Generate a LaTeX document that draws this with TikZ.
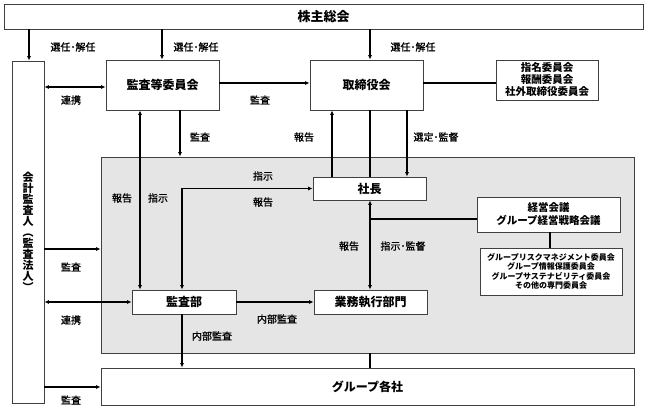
\documentclass[tikz,border=0pt]{standalone}
\usepackage{fontspec}
\setmainfont{Noto Sans CJK JP}
\newfontfamily\chuufont[FakeBold=1.2]{Noto Sans CJK JP}
\usetikzlibrary{arrows.meta}
\begin{document}
\begin{tikzpicture}[
    x=1pt, y=-1pt,
    every node/.style={font=\chuufont\fontsize{10}{12}\selectfont},
    >={Latex[length=4.5pt,width=4pt]}
  ]

  \tikzset{
    hako/.style={draw=black!75, fill=white, line width=0.8pt, inner sep=0pt, align=center,
      font=\normalfont\bfseries\fontsize{12}{14}\selectfont},
    ryoiki/.style={draw=black!75, fill=black!10, line width=0.8pt, inner sep=0pt},
    sen/.style={line width=1.5pt}
  }

  \useasboundingbox (0,0) rectangle (648,409);

  % 執行側の領域
  \node[ryoiki, minimum width=533pt, minimum height=196pt] (ryoiki) at (367.5,255) {};

  % 各機関
  \node[hako, minimum width=639pt, minimum height=25pt, font=\normalfont\bfseries\fontsize{13}{15}\selectfont] (soukai) at (323.5,16.5) {株主総会};
  \node[hako, minimum width=32pt, minimum height=342pt, font=\normalfont\bfseries\fontsize{11}{11}\selectfont] (kaikei) at (28,232)
    {会\\計\\監\\査\\人\\︵\\監\\査\\法\\人\\︶};
  \node[hako, minimum width=113pt, minimum height=50pt] (kansa) at (162.5,85) {監査等委員会};
  \node[hako, minimum width=113pt, minimum height=50pt] (torishimari) at (366.5,85) {取締役会};
  \node[hako, minimum width=102pt, minimum height=40pt, font=\normalfont\bfseries\fontsize{10.5}{12}\selectfont] (shimei) at (547,80)
    {指名委員会\\報酬委員会\\社外取締役委員会};
  \node[hako, minimum width=113pt, minimum height=23pt] (shachou) at (369.5,188.5) {社長};
  \node[hako, minimum width=143pt, minimum height=35pt, font=\normalfont\bfseries\fontsize{10.5}{13}\selectfont] (keiei) at (548.5,214.5)
    {経営会議\\グループ経営戦略会議};
  \node[hako, minimum width=142pt, minimum height=47pt, font=\normalfont\bfseries\fontsize{8}{9.5}\selectfont] (iinkai) at (551,271.5)
    {グループリスクマネジメント委員会\\グループ情報保護委員会\\グループサステナビリティ委員会\\その他の専門委員会};
  \node[hako, minimum width=104pt, minimum height=24pt] (kansabu) at (184,302) {監査部};
  \node[hako, minimum width=113pt, minimum height=24pt] (gyoumu) at (370.5,302) {業務執行部門};
  \node[hako, minimum width=533pt, minimum height=37pt] (group) at (367.5,386.5) {グループ各社};

  % 線の位置
  \coordinate (xa) at (29,0);
  \coordinate (xb) at (162,0);
  \coordinate (xc) at (370,0);
  \coordinate (xd) at (180,0);
  \coordinate (xe) at (140,0);
  \coordinate (xf) at (182,0);
  \coordinate (xg) at (332,0);
  \coordinate (xh) at (407,0);
  \coordinate (xi) at (550,0);
  \coordinate (ya) at (0,87);
  \coordinate (yb) at (0,83);
  \coordinate (yd) at (0,249);
  \coordinate (ye) at (0,387);
  \coordinate (kiten) at (370,219);

  % 株主総会から
  \draw[sen,->] (soukai.south -| xa) -- (kaikei.north -| xa);
  \draw[sen,->] (soukai.south -| xb) -- (kansa.north -| xb);
  \draw[sen,->] (soukai.south -| xc) -- (torishimari.north -| xc);
  \node (l1) at (73,47) {選任･解任};
  \node (l2) at (196,47) {選任･解任};
  \node (l3) at (413,47) {選任･解任};

  % 監査等委員会まわり
  \draw[sen,<->] (kaikei.east |- ya) -- (kansa.west |- ya);
  \draw[sen,->] (kansa.east |- yb) -- (torishimari.west |- yb);
  \draw[sen] (torishimari.east |- yb) -- (shimei.west |- yb);
  \draw[sen,->] (kansa.south -| xd) -- (ryoiki.north -| xd);
  \draw[sen,<->] (kansa.south -| xe) -- (kansabu.north -| xe);
  \node (l4) at (71,100) {連携};
  \node (l5) at (260,100) {監査};
  \node (l6) at (200,137) {監査};
  \node (l7) at (122,198) {報告};
  \node (l8) at (158,198) {指示};

  % 取締役会と社長
  \draw[sen,->] (shachou.north -| xg) -- (torishimari.south -| xg);
  \draw[sen] (torishimari.south -| xc) -- (shachou.north -| xc);
  \draw[sen,->] (torishimari.south -| xh) -- (shachou.north -| xh);
  \node (l9) at (304,137) {報告};
  \node (l10) at (436,137) {選定･監督};

  % 社長と監査部・業務執行部門
  \draw[sen,<->] (kansabu.north -| xf) |- (shachou.west);
  \draw[sen,<->] (shachou.south -| xc) -- (gyoumu.north -| xc);
  \draw[sen] (keiei.west |- kiten) -- (kiten);
  \draw[sen] (keiei.south -| xi) -- (iinkai.north -| xi);
  \node (l11) at (263,176) {指示};
  \node (l12) at (263,202) {報告};
  \node (l13) at (349,246) {報告};
  \node (l14) at (403,246) {指示･監督};

  % 会計監査人から
  \draw[sen,->] (kaikei.east |- yd) -- (ryoiki.west |- yd);
  \draw[sen,<->] (kaikei.east |- kansabu) -- (kansabu.west);
  \draw[sen,->] (kaikei.east |- ye) -- (group.west |- ye);
  \node (l15) at (71,267) {監査};
  \node (l16) at (71,320) {連携};
  \node (l17) at (71,400) {監査};

  % 内部監査
  \draw[sen,->] (kansabu.east) -- (gyoumu.west);
  \draw[sen,->] (kansabu.south -| xf) -- (group.north -| xf);
  \draw[sen] (ryoiki.south -| xc) -- (group.north -| xc);
  \node (l18) at (277,319) {内部監査};
  \node (l19) at (212,336) {内部監査};

\end{tikzpicture}
\end{document}
